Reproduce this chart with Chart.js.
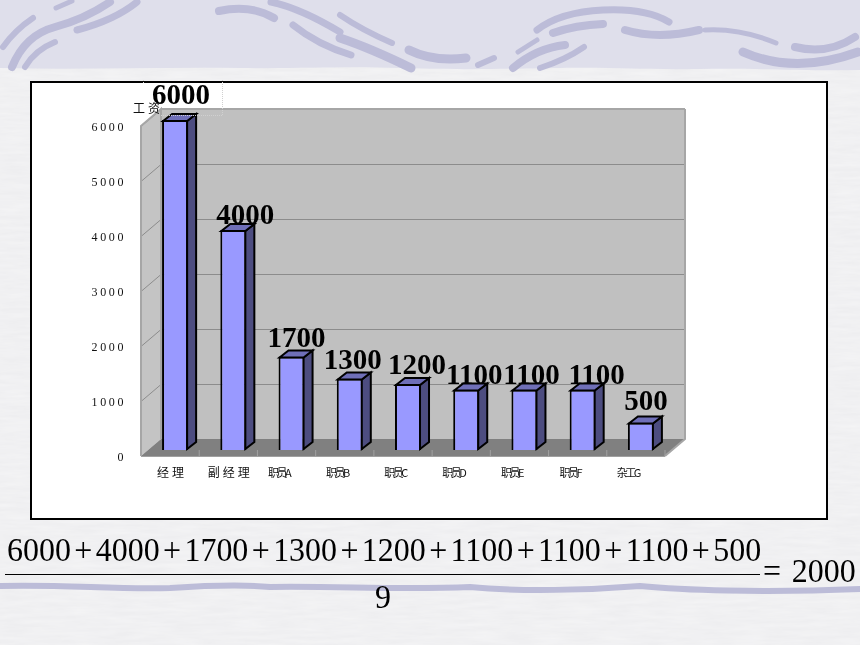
<!DOCTYPE html>
<html lang="zh">
<head>
<meta charset="utf-8">
<style>
html,body{margin:0;padding:0;width:860px;height:645px;overflow:hidden;background:#efeff1}
#bg{position:absolute;left:0;top:0}
#frame{position:absolute;left:30px;top:81px;width:794px;height:435px;background:#fff;border:2px solid #000}
canvas{position:absolute;left:0;top:0}
.eq{position:absolute;font-family:"Liberation Serif",serif;font-size:34px;line-height:34px;color:#000;white-space:nowrap;transform:scaleX(.94);transform-origin:0 0}
.eq i{font-style:normal;margin:0 3.6px}
#rule{position:absolute;left:5px;top:574px;width:755px;height:1px;background:#000}
</style>
</head>
<body>
<svg id="bg" width="860" height="645" xmlns="http://www.w3.org/2000/svg">
<defs>
<filter id="n" x="0" y="0" width="100%" height="100%"><feTurbulence type="fractalNoise" baseFrequency="0.03 0.25" numOctaves="3" seed="4"/><feColorMatrix values="0 0 0 0 1  0 0 0 0 1  0 0 0 0 1  0.5 0 0 0 -0.12"/></filter>
</defs>
<rect width="860" height="645" fill="#eeeef0"/>
<rect width="860" height="645" filter="url(#n)"/>
<path d="M0 0H860V70C800 71 760 68 700 69C640 70 620 67 560 68C500 69 470 70 400 68C340 66 300 69 240 68C160 67 80 70 0 68Z" fill="#dfdfeb"/>
<g fill="none" stroke="#bcbcd8" stroke-linecap="round">
<path stroke-width="6" d="M3 47Q15 30 33 18"/>
<path stroke-width="8" d="M12 67Q25 35 55 27T110 2"/>
<path stroke-width="7" d="M77 30Q115 20 137 2"/>
<path stroke-width="6" d="M25 67Q35 50 55 42"/>
<path stroke-width="5" d="M56 8L72 1"/>
<path stroke-width="8" d="M219 11Q250 4 274 18"/>
<path stroke-width="7" d="M271 2Q300 8 340 32"/>
<path stroke-width="7" d="M293 25Q318 45 351 55"/>
<path stroke-width="6" d="M340 15Q362 30 392 43"/>
<path stroke-width="9" d="M340 38Q370 48 411 68"/>
<path stroke-width="9" d="M409 50Q433 62 466 58"/>
<path stroke-width="6" d="M478 65L494 58"/>
<path stroke-width="8" d="M513 68Q537 48 565 45"/>
<path stroke-width="5" d="M518 52L537 40"/>
<path stroke-width="6" d="M540 68Q565 60 584 47"/>
<path stroke-width="7" d="M537 30Q560 12 603 10T669 22"/>
<path stroke-width="8" d="M553 33Q576 25 603 24"/>
<path stroke-width="8" d="M625 30Q658 40 699 30"/>
<path stroke-width="5" d="M705 30Q740 28 776 43"/>
<path stroke-width="8" d="M795 47Q828 55 855 37"/>
<path stroke-width="9" d="M743 52Q795 75 858 52"/>
<path stroke-width="6" d="M0 586C60 584 120 590 170 588C200 586 240 584 270 587C340 586 400 590 470 587C520 592 590 590 640 586C680 590 760 593 860 589"/>
</g>
</svg>
<div id="frame"></div>
<canvas id="c" width="860" height="645"></canvas>
<div class="eq" style="left:7px;top:533px">6000<i>+</i>4000<i>+</i>1700<i>+</i>1300<i>+</i>1200<i>+</i>1100<i>+</i>1100<i>+</i>1100<i>+</i>500</div>
<div id="rule"></div>
<div class="eq" style="left:763px;top:554px;word-spacing:3px">= 2000</div>
<div class="eq" style="left:375px;top:580px">9</div>
<script src="https://cdn.jsdelivr.net/npm/chart.js@4"></script>
<script>
const categories = ['经理','副经理','职员A','职员B','职员C','职员D','职员E','职员F','杂工G'];
const wages = [6000,4000,1700,1300,1200,1100,1100,1100,500];
const yTicks = [0,1000,2000,3000,4000,5000,6000];
const yTitle = '工资';
const labelNudgeX = [6,12,5,3,9,8,7,14,5];
const labelNudgeY = [-16,-6,-10,-10,-10,-6,-6,-6,-13];

const WALL = {dx:15,dy:-11,fx:-5,fy:6};
const BAR = {dx:9,dy:-7};
const poly = (ctx,pts,fill,stroke,lw)=>{
  ctx.beginPath();pts.forEach((p,i)=>i?ctx.lineTo(p[0],p[1]):ctx.moveTo(p[0],p[1]));ctx.closePath();
  if(fill){ctx.fillStyle=fill;ctx.fill();}
  if(stroke){ctx.strokeStyle=stroke;ctx.lineWidth=lw;ctx.lineJoin='miter';ctx.stroke();}
};
const threeD = {
  id:'threeD',
  beforeDraw(chart){chart.ctx.letterSpacing='2.6px';},
  beforeDatasetsDraw(chart){
    const {ctx,scales:{x,y},chartArea:a}=chart;
    ctx.save();ctx.letterSpacing='0px';
    const t=y.getPixelForValue(6000), b=y.getPixelForValue(0);
    const fl=a.left+WALL.fx, fr=a.right+WALL.fx, bl=a.left+WALL.dx, br=a.right+WALL.dx;
    const ft=t+WALL.fy, fb=b+WALL.fy, kt=t+WALL.dy, kb=b+WALL.dy;
    poly(ctx,[[bl,kt],[br,kt],[br,kb],[bl,kb]],'#c0c0c0');
    poly(ctx,[[fl,ft],[bl,kt],[bl,kb],[fl,fb]],'#c4c4c4');
    poly(ctx,[[fl,fb],[bl,kb],[br,kb],[fr,fb]],'#808080');
    ctx.strokeStyle='#8c8c8c';ctx.lineWidth=1;
    yTicks.slice(1).forEach(v=>{
      const p=Math.round(y.getPixelForValue(v))+.5;
      ctx.beginPath();ctx.moveTo(fl,p+WALL.fy);ctx.lineTo(bl,p+WALL.dy);ctx.lineTo(br,p+WALL.dy);ctx.stroke();
    });
    ctx.strokeStyle='#a6a6a6';ctx.lineWidth=2;
    ctx.beginPath();ctx.moveTo(fl,fb);ctx.lineTo(fl,ft);ctx.lineTo(bl,kt);ctx.lineTo(bl,kb);ctx.moveTo(br,kt);ctx.lineTo(br,kb);ctx.lineTo(fr,fb);ctx.moveTo(bl,kt);ctx.lineTo(br,kt);ctx.stroke();
    ctx.strokeStyle='#a0a0a0';ctx.lineWidth=1;
    ctx.beginPath();ctx.moveTo(fl,fb+.5);ctx.lineTo(fr,fb+.5);
    categories.forEach((c,i)=>{const px=x.getPixelForValue(i)+x.width/categories.length/2+WALL.fx;ctx.moveTo(px,fb);ctx.lineTo(px,fb-6);});
    ctx.stroke();
    ctx.restore();
  },
  afterDatasetsDraw(chart){
    const {ctx,scales:{x,y}}=chart;
    ctx.save();ctx.letterSpacing='0px';
    chart.getDatasetMeta(0).data.forEach((bar)=>{
      const r=bar.x+bar.width/2-1, l=bar.x-bar.width/2+1, top=bar.y+1, base=bar.base-1;
      poly(ctx,[[r,top],[r+BAR.dx,top+BAR.dy],[r+BAR.dx,base+BAR.dy],[r,base]],'#4d4d80','#000',2);
      poly(ctx,[[l,top],[l+BAR.dx,top+BAR.dy],[r+BAR.dx,top+BAR.dy],[r,top]],'#6f6fb8','#000',2);
    });
    // selection box around the first value label
    ctx.strokeStyle='#d0d0d0';ctx.lineWidth=1;ctx.setLineDash([1,1]);
    ctx.beginPath();ctx.moveTo(222.5,80);ctx.lineTo(222.5,115.5);ctx.lineTo(160,115.5);ctx.moveTo(143.5,80);ctx.lineTo(143.5,83);ctx.stroke();
    ctx.setLineDash([]);
    // value labels
    ctx.fillStyle='#000';ctx.textAlign='center';ctx.textBaseline='alphabetic';
    ctx.font='bold 29px "Liberation Serif", serif';
    chart.getDatasetMeta(0).data.forEach((bar,i)=>{
      ctx.fillText(String(wages[i]),bar.x+labelNudgeX[i],bar.y+labelNudgeY[i]);
    });
    // axis title
    ctx.font='12px "Noto Sans CJK SC", sans-serif';ctx.textAlign='left';ctx.letterSpacing='3px';ctx.fillStyle='#111';
    ctx.fillText(yTitle,133,113);
    // category labels
    ctx.textAlign='center';
    categories.forEach((c,i)=>{
      const tight=/[A-Z]$/.test(c);
      ctx.font=(tight?'11px':'12px')+' "Noto Sans CJK SC", sans-serif';
      ctx.letterSpacing=tight?'-2.5px':'3px';
      ctx.fillText(c,x.getPixelForValue(i)+(tight?-13:-3),477);
    });
    ctx.restore();
  }
};
new Chart(document.getElementById('c'),{
  type:'bar',
  data:{labels:categories,datasets:[{label:yTitle,data:wages,backgroundColor:'#9999ff',borderColor:'#000',borderWidth:2,barPercentage:.447,categoryPercentage:1}]},
  plugins:[threeD],
  options:{
    responsive:false,animation:false,devicePixelRatio:1,
    layout:{padding:{top:120,right:190,left:0,bottom:0}},
    plugins:{legend:{display:false},tooltip:{enabled:false},title:{display:false}},
    scales:{
      x:{grid:{display:false},border:{display:false},ticks:{display:false},afterFit:s=>{s.height=195;}},
      y:{min:0,max:6000,afterBuildTicks:s=>{s.ticks=yTicks.map(v=>({value:v}));},grid:{display:false},border:{display:false},
         ticks:{padding:12,labelOffset:8,color:'#111',font:{family:'"Liberation Serif", serif',size:12},callback:v=>String(v)},afterFit:s=>{s.width=146;}}
    }
  }
});
</script>
</body>
</html>
